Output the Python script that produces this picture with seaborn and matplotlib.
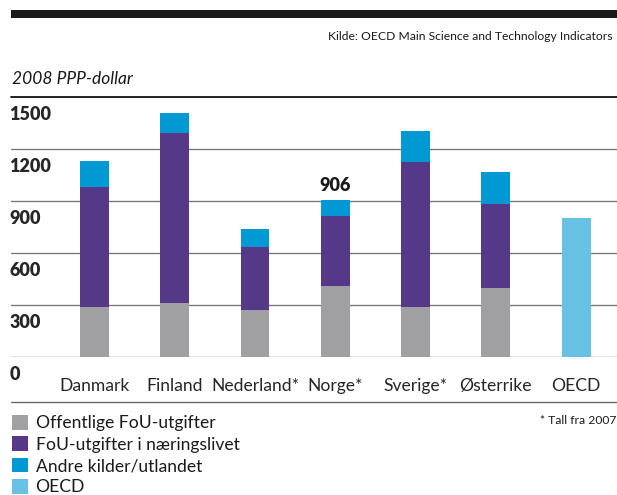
import pandas as pd
import matplotlib
matplotlib.use("Agg")
import matplotlib.pyplot as plt
from matplotlib.patches import Patch, Rectangle
from matplotlib.lines import Line2D
from matplotlib.transforms import ScaledTranslation
import seaborn as sns

# values (2008 PPP-dollar)
countries = ["Danmark", "Finland", "Nederland*", "Norge*", "Sverige*", "Østerrike", "OECD"]
offentlig = [287, 311, 269, 408, 287, 396, 0]
naeringsliv = [692, 980, 364, 403, 836, 484, 0]
andre = [150, 115, 104, 95, 179, 185, 0]
oecd = [0, 0, 0, 0, 0, 0, 800]
y_ticks = [0, 300, 600, 900, 1200, 1500]
series_labels = ["Offentlige FoU-utgifter", "FoU-utgifter i næringslivet",
                 "Andre kilder/utlandet", "OECD"]

GREY = "#a0a0a2"
PURPLE = "#563888"
BLUE = "#0099d4"
LIGHT = "#66c1e5"

sns.set_style("white")
plt.rcParams["font.family"] = ["Lato", "DejaVu Sans"]
plt.rcParams["text.color"] = "#1a1a1a"

df = pd.DataFrame({"land": countries, "offentlig": offentlig,
                   "naering": naeringsliv, "andre": andre, "oecd": oecd})
df["gp"] = df["offentlig"] + df["naering"]
df["total"] = df["gp"] + df["andre"]

W, H = 617, 495
fig = plt.figure(figsize=(W / 100, H / 100), dpi=100)
ax = fig.add_axes([11 / W, 1 - 356.7 / H, 606 / W, 259.7 / H])

# grid lines behind the bars
for v in y_ticks[:-1]:
    ax.axhline(v, color="#7a7a7a", lw=1.0, zorder=0)
ax.axhline(1500, color="#111111", lw=1.3, zorder=0, clip_on=False)

bar_kw = dict(x="land", order=countries, width=0.36, saturation=1,
              errorbar=None, linewidth=0, ax=ax, zorder=2)
sns.barplot(data=df, y="total", color=BLUE, **bar_kw)
sns.barplot(data=df, y="gp", color=PURPLE, **bar_kw)
sns.barplot(data=df, y="offentlig", color=GREY, **bar_kw)
sns.barplot(data=df, y="oecd", color=LIGHT, **bar_kw)

ax.set_xlim(-1.04, 6.51)
ax.set_ylim(0, 1500)
ax.set_xlabel("")
ax.set_ylabel("")
sns.despine(ax=ax, left=True, bottom=True)

# y labels sit just below their grid line
ax.set_yticks(y_ticks)
ax.set_yticklabels([str(v) for v in y_ticks], fontsize=13, fontweight="heavy")
ax.tick_params(axis="y", left=False, pad=0)
for lab in ax.get_yticklabels():
    lab.set_horizontalalignment("left")
    lab.set_transform(lab.get_transform() + ScaledTranslation(3 / 100, -16 / 100, fig.dpi_scale_trans))

ax.tick_params(axis="x", bottom=False, pad=12, labelsize=12.6)

# Norway total
nor = countries.index("Norge*")
ax.annotate(str(int(df.loc[nor, "total"])), (nor, df.loc[nor, "total"]),
            xytext=(0, 6), textcoords="offset pixels", ha="center", va="bottom",
            fontsize=13, fontweight="heavy")

# header band and texts
fig.patches.append(Rectangle((11 / W, 1 - 18 / H), 606 / W, 8 / H,
                             transform=fig.transFigure, color="#1a1a1a", lw=0))
fig.text(612 / W, 1 - 37 / H, "Kilde: OECD Main Science and Technology Indicators",
         ha="right", va="center", fontsize=8.75)
fig.text(12 / W, 1 - 79 / H, "2008 PPP-dollar", ha="left", va="center",
         fontsize=12.5, style="italic")

fig.lines.append(Line2D([11 / W, 1], [1 - 402 / H, 1 - 402 / H],
                        transform=fig.transFigure, color="#6a6a6a", lw=1.0))
fig.text(616 / W, 1 - 420 / H, "* Tall fra 2007", ha="right", va="center", fontsize=8.7)

handles = [Patch(facecolor=c, edgecolor="none") for c in (GREY, PURPLE, BLUE, LIGHT)]
fig.legend(handles, series_labels, loc="upper left", bbox_to_anchor=(12 / W, 1 - 415 / H),
           frameon=False, fontsize=12.6, handlelength=0.9, handleheight=0.9,
           handletextpad=0.45, labelspacing=0.29, borderpad=0, borderaxespad=0)

fig.savefig("out.png", dpi=100)
